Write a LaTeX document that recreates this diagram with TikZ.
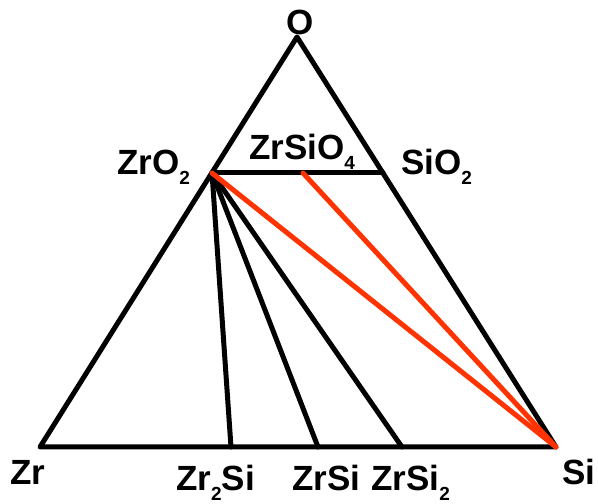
\documentclass[tikz,border=0pt]{standalone}
\usepackage{fontspec}
\setmainfont{Liberation Sans}
\usepackage{tikz}
\usetikzlibrary{calc}
\definecolor{phaseink}{HTML}{000000}
\definecolor{phasehot}{HTML}{FF3300}
\newcommand{\phsub}[1]{\raisebox{-10pt}{\fontsize{19}{19}\selectfont #1}}
\tikzset{%
  phaseedge/.style={%
    draw=phaseink,
    line width=5pt,
    line join=round,
    line cap=round
  },
  phasetie/.style={phaseedge},
  phasehottie/.style={phaseedge,draw=phasehot},
  phaselabel/.style={%
    font=\fontsize{35}{35}\selectfont\bfseries,
    inner sep=0pt,
    anchor=base west
  }
}

\begin{document}
\begin{tikzpicture}[x=1pt,y=1pt]
    \useasboundingbox (0,0) rectangle (598,504);
    % corners and compounds
    \coordinate (zr) at (40,57);
    \coordinate (si) at (556,57);
    \coordinate (o) at (297,467);
    \coordinate (zro2) at (212,331);
    \coordinate (sio2) at (383,331);
    \coordinate (zrsio4) at (303,331);
    \coordinate (zr2si) at (231,57);
    \coordinate (zrsi) at (318,57);
    \coordinate (zrsi2) at (402,57);

    \node[phaselabel,anchor=base] (labelo) at (300,469) {O};
    \node[phaselabel] (labelzro2) at (117,329) {ZrO\phsub{2}};
    \node[phaselabel] (labelsio2) at (401,329) {SiO\phsub{2}};
    \node[phaselabel] (labelzrsio4) at (249,344) {ZrSiO\phsub{4}};
    \node[phaselabel] (labelzr) at (10,19) {Zr};
    \node[phaselabel] (labelsi) at (562,19) {Si};
    \node[phaselabel] (labelzr2si) at (176,13) {Zr\phsub{2}Si};
    \node[phaselabel] (labelzrsi) at (292,13) {ZrSi};
    \node[phaselabel] (labelzrsi2) at (371,13) {ZrSi\phsub{2}};

    \draw[phaseedge] (zr) -- (si) -- (o) -- cycle;
    \draw[phasetie] (zro2) -- (sio2);
    \draw[phasetie] (zro2) -- (zr2si);
    \draw[phasetie] (zro2) -- (zrsi);
    \draw[phasetie] (zro2) -- (zrsi2);
    \draw[phasehottie] (zro2) -- (si);
    \draw[phasehottie] (zrsio4) -- (si);
  \end{tikzpicture}
\end{document}
